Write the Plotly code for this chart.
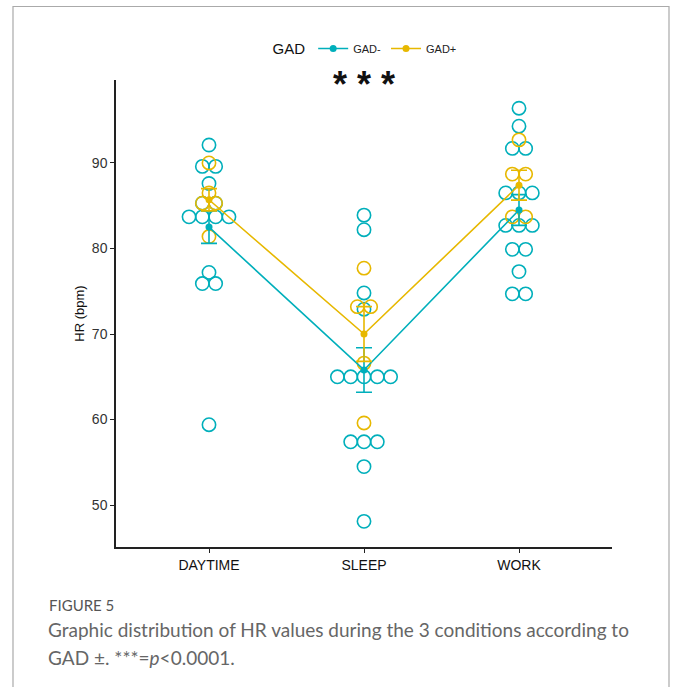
import plotly.graph_objects as go
from collections import Counter

conditions = ["DAYTIME", "SLEEP", "WORK"]
cond_pos = [1, 2, 3]

# individual HR values (bpm) per condition
gad_neg_daytime = [92.1, 89.6, 89.6, 87.6, 85.3, 85.3, 83.7, 83.7, 83.7, 83.7, 77.2, 75.9, 75.9, 59.4]
gad_neg_sleep = [83.9, 82.2, 74.8, 72.9, 65.0, 65.0, 65.0, 65.0, 65.0, 57.4, 57.4, 57.4, 54.5, 48.1]
gad_neg_work = [96.4, 94.3, 91.7, 91.7, 86.5, 86.5, 86.5, 82.7, 82.7, 82.7, 79.9, 79.9, 77.3, 74.7, 74.7]

gad_pos_daytime = [90.0, 86.5, 85.3, 85.3, 81.4]
gad_pos_sleep = [77.7, 73.2, 73.2, 66.6, 59.6]
gad_pos_work = [92.7, 88.7, 88.7, 83.7, 83.7]

# group means and error (bpm)
gad_neg_mean = [82.5, 65.8, 84.5]
gad_neg_err = [1.9, 2.6, 1.8]
gad_pos_mean = [85.7, 70.0, 87.4]
gad_pos_err = [1.3, 3.2, 1.75]

y_ticks = [50, 60, 70, 80, 90]

C_NEG = "#00AFBB"
C_POS = "#E7B800"

# layout geometry (pixels)
W, H = 681, 687
L, R, T, B = 116, 69, 80, 140
plot_w = W - L - R
plot_h = H - T - B
x_range = [0.4, 3.6]
px_per_unit = plot_w / (x_range[1] - x_range[0])
dot_d = 13.3  # dot diameter in px
dot_step = dot_d / px_per_unit


def py(pix):
    """pixel row from top -> paper y"""
    return (H - B - pix) / plot_h


def px(pix):
    """pixel column from left -> paper x"""
    return (pix - L) / plot_w


def stack(values, center):
    counts = Counter(values)
    seen = Counter()
    xs, ys = [], []
    for v in values:
        k = counts[v]
        i = seen[v]
        seen[v] += 1
        xs.append(center + (i - (k - 1) / 2) * dot_step)
        ys.append(v)
    return xs, ys


fig = go.Figure()

neg_sets = [gad_neg_daytime, gad_neg_sleep, gad_neg_work]
pos_sets = [gad_pos_daytime, gad_pos_sleep, gad_pos_work]

for sets, col in [(neg_sets, C_NEG), (pos_sets, C_POS)]:
    xs, ys = [], []
    for c, vals in zip(cond_pos, sets):
        a, b = stack(vals, c)
        xs += a
        ys += b
    fig.add_trace(go.Scatter(
        x=xs, y=ys, mode="markers", showlegend=False, hoverinfo="y",
        marker=dict(symbol="circle-open", size=dot_d, color=col, line=dict(width=1.6, color=col)),
    ))

for name, means, errs, col in [("GAD-", gad_neg_mean, gad_neg_err, C_NEG),
                                ("GAD+", gad_pos_mean, gad_pos_err, C_POS)]:
    fig.add_trace(go.Scatter(
        x=cond_pos, y=means, mode="lines+markers", name=name,
        line=dict(color=col, width=1.6),
        marker=dict(symbol="circle", size=7, color=col),
        error_y=dict(type="data", array=errs, visible=True, color=col, thickness=1.6, width=8),
    ))

fig.add_annotation(
    x=2, y=1.0, xref="x", yref="paper", text="<b>* * *</b>", showarrow=False,
    font=dict(size=36, color="#111", family="Liberation Sans, Arial, sans-serif"),
    yanchor="middle", yshift=-4,
)

# caption
cap_font = "Lato, Noto Sans, sans-serif"
fig.add_annotation(
    x=px(47), y=py(605), xref="paper", yref="paper",
    text="FIGURE 5", showarrow=False, xanchor="left", yanchor="middle",
    font=dict(size=15, color="#555555", family=cap_font),
)
fig.add_annotation(
    x=px(46), y=py(629), xref="paper", yref="paper",
    text="Graphic distribution of HR values during the 3 conditions according to",
    showarrow=False, xanchor="left", yanchor="middle", align="left",
    font=dict(size=19, color="#666666", family=cap_font),
)
fig.add_annotation(
    x=px(46), y=py(657), xref="paper", yref="paper",
    text="GAD ±. ***=<i>p</i><0.0001.",
    showarrow=False, xanchor="left", yanchor="middle", align="left",
    font=dict(size=19, color="#666666", family=cap_font),
)

# frame
fig.add_shape(
    type="rect", xref="paper", yref="paper",
    x0=px(13), x1=px(669), y0=py(720), y1=py(6.5),
    line=dict(color="#aaaaaa", width=1.2), fillcolor="rgba(0,0,0,0)", layer="below",
)

fig.update_layout(
    width=W, height=H,
    margin=dict(l=L, r=R, t=T, b=B, pad=0),
    paper_bgcolor="white", plot_bgcolor="white",
    font=dict(family="Liberation Sans, Arial, sans-serif", color="#222"),
    showlegend=True,
    legend=dict(
        orientation="h", x=px(366), y=py(49), xanchor="center", yanchor="middle",
        title=dict(text="GAD", font=dict(size=15, color="#111")),
        font=dict(size=11, color="#222"), bgcolor="rgba(0,0,0,0)",
        itemwidth=30,
    ),
    xaxis=dict(
        range=x_range, tickvals=cond_pos, ticktext=conditions,
        showline=True, linecolor="#222", linewidth=1.5,
        ticks="outside", ticklen=4, tickcolor="#222", tickwidth=1.2,
        showgrid=False, zeroline=False,
        tickfont=dict(size=14, color="#111"),
    ),
    yaxis=dict(
        range=[45.1, 99.7], tickvals=y_ticks,
        showline=True, linecolor="#222", linewidth=1.5,
        ticks="outside", ticklen=4, tickcolor="#222", tickwidth=1.2,
        showgrid=False, zeroline=False,
        tickfont=dict(size=14, color="#333"),
        title=dict(text="HR (bpm)", font=dict(size=13, color="#111"), standoff=4),
    ),
)

fig.write_html("out.html")
